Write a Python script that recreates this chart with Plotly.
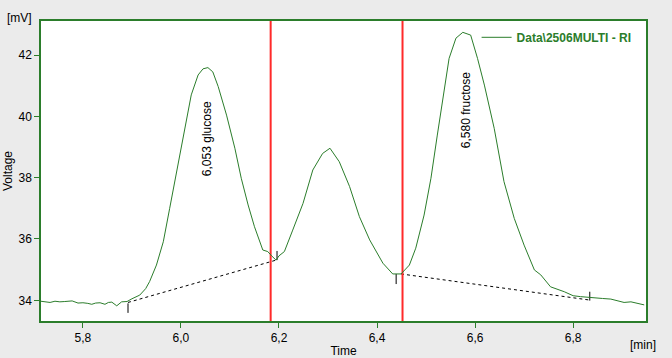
import plotly.graph_objects as go

# ---- data ----
time_min = [5.714, 5.733, 5.743, 5.753, 5.763, 5.778, 5.790, 5.800, 5.810, 5.818,
            5.826, 5.835, 5.845, 5.852, 5.859, 5.869, 5.879, 5.890, 5.900, 5.916,
            5.928, 5.936, 5.950, 5.964, 5.977, 5.987, 6.001, 6.011, 6.021, 6.035,
            6.045, 6.055, 6.065, 6.076, 6.093, 6.110, 6.123, 6.137, 6.150, 6.167,
            6.177, 6.185, 6.194, 6.200, 6.211, 6.228, 6.249, 6.269, 6.289, 6.304,
            6.323, 6.344, 6.364, 6.385, 6.412, 6.432, 6.449, 6.466, 6.479, 6.496,
            6.510, 6.523, 6.537, 6.547, 6.561, 6.575, 6.591, 6.605, 6.619, 6.639,
            6.659, 6.680, 6.700, 6.721, 6.734, 6.754, 6.782, 6.800, 6.815, 6.843,
            6.860, 6.877, 6.890, 6.904, 6.918, 6.931, 6.945]
voltage_mv = [33.97, 33.93, 33.97, 33.95, 33.96, 33.98, 33.91, 33.92, 33.90, 33.87,
              33.91, 33.92, 33.87, 33.93, 33.94, 33.82, 33.95, 33.96, 34.05, 34.17,
              34.38, 34.61, 35.15, 35.91, 37.00, 37.87, 38.96, 39.83, 40.70, 41.35,
              41.55, 41.59, 41.45, 40.97, 40.04, 38.96, 37.98, 37.11, 36.40, 35.64,
              35.59, 35.45, 35.31, 35.45, 35.59, 36.29, 37.16, 38.25, 38.79, 38.96,
              38.52, 37.71, 36.73, 35.97, 35.21, 34.86, 34.86, 35.15, 35.70, 36.78,
              37.98, 39.39, 40.80, 41.89, 42.55, 42.74, 42.65, 41.89, 41.02, 39.61,
              37.87, 36.67, 35.80, 34.99, 34.83, 34.44, 34.28, 34.15, 34.12, 34.07,
              34.06, 34.04, 33.98, 33.93, 33.95, 33.90, 33.85]

# integration baselines (start, end)
baseline_t = [[5.892, 6.194], [6.449, 6.833]]
baseline_v = [[33.93, 35.31], [34.86, 34.01]]

# peak boundary tick marks
bound_t = [5.892, 6.196, 6.439, 6.834]
bound_v_from = [33.90, 35.61, 34.86, 34.28]
bound_v_to = [33.59, 35.31, 34.53, 33.99]

# red cursor lines
cursor_t = [6.183, 6.452]

# peak labels
peak_t = [6.0546, 6.582]
peak_v = [39.28, 40.21]
peak_text = ["6,053 glucose", "6,580 fructose"]

x_tickvals = [5.8, 6.0, 6.2, 6.4, 6.6, 6.8]
x_ticktext = ["5,8", "6,0", "6,2", "6,4", "6,6", "6,8"]
y_tickvals = [34, 36, 38, 40, 42]
y_ticktext = ["34", "36", "38", "40", "42"]

x_range = [5.7145, 6.9487]
y_range = [33.325, 43.11]

series_name = "Data\\2506MULTI - RI"

GREEN = "#2b7d2b"
FONT = "Liberation Sans, Arial, sans-serif"

fig = go.Figure()

# baselines
for bt, bv in zip(baseline_t, baseline_v):
    fig.add_trace(go.Scatter(x=bt, y=bv, mode="lines", showlegend=False,
                             line=dict(color="black", width=1, dash="3px,3px"),
                             hoverinfo="skip"))

# boundary ticks
bx, by = [], []
for t, v0, v1 in zip(bound_t, bound_v_from, bound_v_to):
    bx += [t, t, None]
    by += [v0, v1, None]
fig.add_trace(go.Scatter(x=bx, y=by, mode="lines", showlegend=False,
                         line=dict(color="black", width=1), hoverinfo="skip"))

# cursors
for t in cursor_t:
    fig.add_trace(go.Scatter(x=[t, t], y=y_range, mode="lines", showlegend=False,
                             line=dict(color="#ff2a2a", width=2), hoverinfo="skip"))

# main signal
fig.add_trace(go.Scatter(x=time_min, y=voltage_mv, mode="lines", name=series_name,
                         line=dict(color=GREEN, width=1)))

for t, v, s in zip(peak_t, peak_v, peak_text):
    fig.add_annotation(x=t, y=v, text=s, textangle=-90, showarrow=False,
                       font=dict(family=FONT, size=12, color="black"))

fig.add_annotation(xref="paper", yref="paper", x=-0.0116, y=1.01, text="[mV]",
                   showarrow=False, xanchor="right", yanchor="middle",
                   font=dict(family=FONT, size=12, color="black"))
fig.add_annotation(xref="paper", yref="paper", x=0.995, y=-0.08, text="[min]",
                   showarrow=False, xanchor="center", yanchor="middle",
                   font=dict(family=FONT, size=12, color="black"))

fig.update_layout(
    width=672, height=358,
    margin=dict(l=41, r=26, t=21, b=37, autoexpand=False),
    paper_bgcolor="#ebebeb",
    plot_bgcolor="white",
    font=dict(family=FONT, size=12, color="black"),
    showlegend=True,
    legend=dict(x=0.72, y=0.994, xanchor="left", yanchor="top",
                bgcolor="rgba(0,0,0,0)", font=dict(family=FONT, size=12, color=GREEN, weight="bold"),
                itemwidth=30),
)
fig.update_xaxes(range=x_range, tickvals=x_tickvals, ticktext=x_ticktext,
                 showgrid=False, zeroline=False, showline=True, mirror=True,
                 linecolor=GREEN, linewidth=1.5, ticks="outside", ticklen=5,
                 tickcolor=GREEN, automargin=False,
                 title=dict(text="Time", standoff=4, font=dict(size=12)))
fig.update_yaxes(range=y_range, tickvals=y_tickvals, ticktext=y_ticktext,
                 showgrid=False, zeroline=False, showline=True, mirror=True,
                 linecolor=GREEN, linewidth=1.5, ticks="outside", ticklen=5,
                 tickcolor=GREEN, automargin=False,
                 title=dict(text="Voltage", standoff=3, font=dict(size=12)))

fig.write_html("out.html", config={"displayModeBar": False},
               post_script="document.body.style.margin='0';document.body.style.padding='0';")
